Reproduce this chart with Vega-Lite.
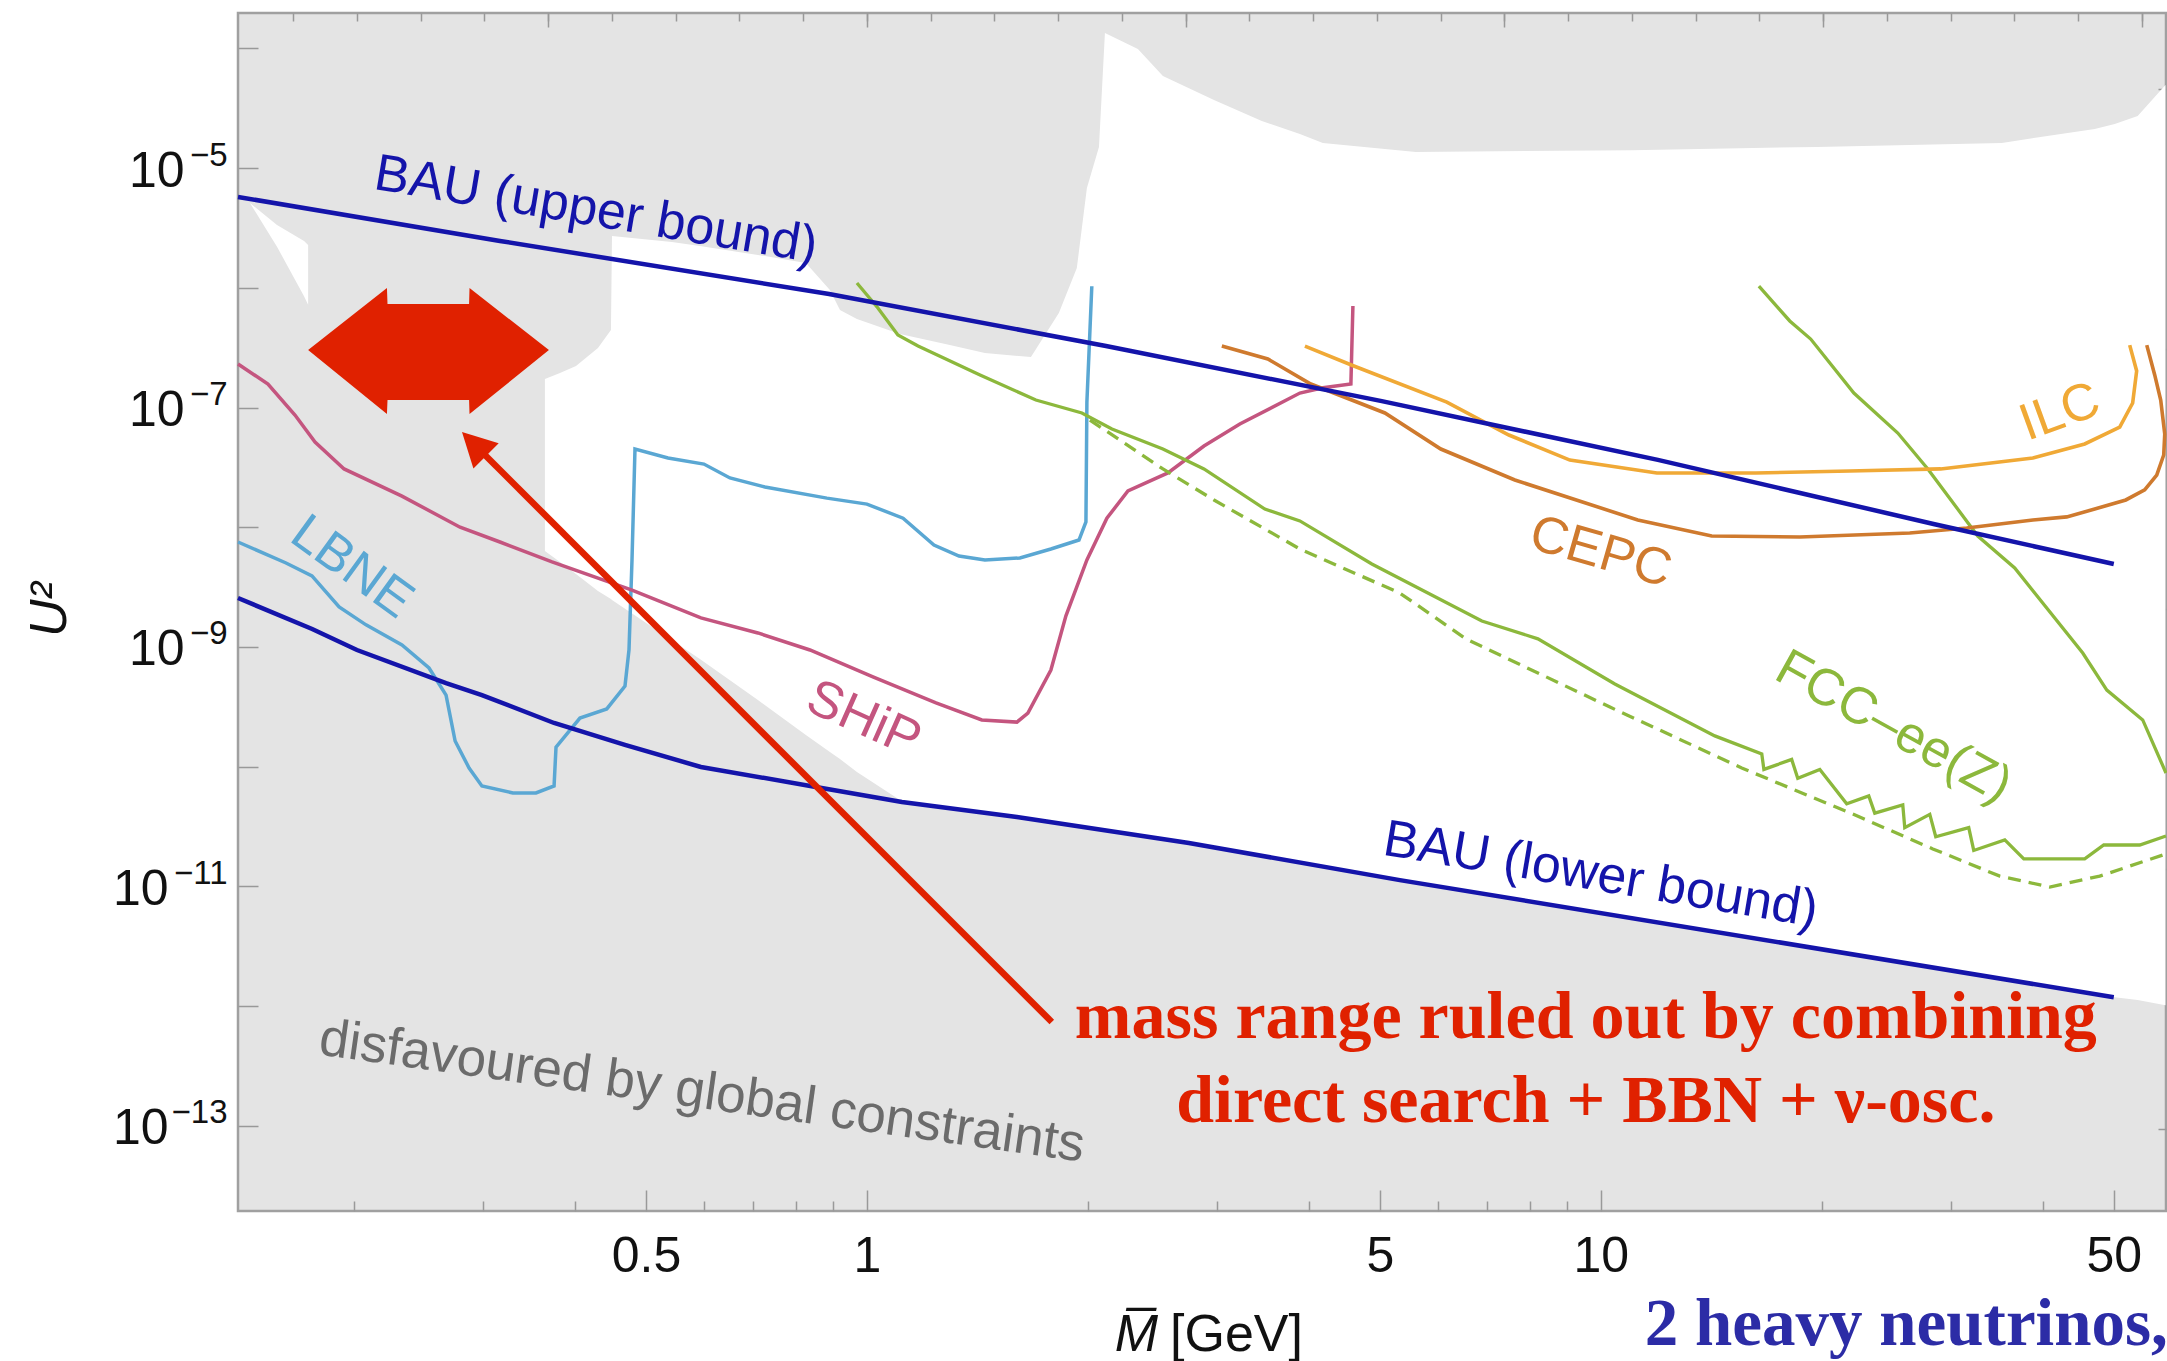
{
  "$schema": "https://vega.github.io/schema/vega-lite/v6.json",
  "width": 1928,
  "height": 1198,
  "autosize": {"type": "none"},
  "padding": {"left": 238, "top": 13, "right": 1, "bottom": 150},
  "background": "white",
  "config": {
    "view": {"fill": "#e4e4e4", "stroke": "#a0a0a0", "strokeWidth": 2.5},
    "axis": {"domain": false, "grid": false, "tickColor": "#999999", "tickWidth": 1.5, "labelFont": "Liberation Sans", "titleFont": "Liberation Sans", "labelColor": "#111111", "titleColor": "#111111", "titleFontWeight": "normal", "zindex": 1, "labelFlush": false, "labelOverlap": false}
  },
  "resolve": {"axis": {"x": "independent", "y": "independent"}},
  "datasets": {
    "white": [
      {"m": 0.3641, "u2": 1.73e-7, "u2b": 6.33e-9},
      {"m": 0.3817, "u2": 1.94e-7, "u2b": 5.13e-9},
      {"m": 0.4014, "u2": 2.22e-7, "u2b": 4.07e-9},
      {"m": 0.43, "u2": 3.14e-7, "u2b": 2.94e-9},
      {"m": 0.4479, "u2": 4.44e-7, "u2b": 2.52e-9},
      {"m": 0.4494, "u2": 2.71e-6, "u2b": 2.47e-9},
      {"m": 0.5424, "u2": 2.41e-6, "u2b": 1.14e-9},
      {"m": 0.5921, "u2": 2.23e-6, "u2b": 7.94e-10},
      {"m": 0.7103, "u2": 1.88e-6, "u2b": 3.61e-10},
      {"m": 0.8257, "u2": 1.61e-6, "u2b": 1.84e-10},
      {"m": 0.8903, "u2": 9.58e-7, "u2b": 1.33e-10},
      {"m": 0.9189, "u2": 6.52e-7, "u2b": 1.16e-10},
      {"m": 0.9691, "u2": 5.48e-7, "u2b": 9.04e-11},
      {"m": 1.109, "u2": 4.11e-7, "u2b": 5.28e-11},
      {"m": 1.297, "u2": 3.32e-7, "u2b": 4.52e-11},
      {"m": 1.448, "u2": 2.85e-7, "u2b": 4.11e-11},
      {"m": 1.673, "u2": 2.64e-7, "u2b": 3.66e-11},
      {"m": 1.826, "u2": 6.15e-7, "u2b": 3.39e-11},
      {"m": 1.932, "u2": 1.46e-6, "u2b": 3.2e-11},
      {"m": 1.994, "u2": 6.81e-6, "u2b": 3.14e-11},
      {"m": 2.071, "u2": 1.5e-5, "u2b": 3.02e-11},
      {"m": 2.11, "u2": 1.341e-4, "u2b": 2.96e-11},
      {"m": 2.34, "u2": 9.86e-5, "u2b": 2.69e-11},
      {"m": 2.531, "u2": 5.87e-5, "u2b": 2.49e-11},
      {"m": 2.971, "u2": 3.7e-5, "u2b": 2.14e-11},
      {"m": 3.452, "u2": 2.47e-5, "u2b": 1.8e-11},
      {"m": 3.89, "u2": 1.92e-5, "u2b": 1.57e-11},
      {"m": 4.181, "u2": 1.62e-5, "u2b": 1.46e-11},
      {"m": 5.598, "u2": 1.36e-5, "u2b": 1.07e-11},
      {"m": 11.02, "u2": 1.41e-5, "u2b": 5.46e-12},
      {"m": 19.69, "u2": 1.5e-5, "u2b": 3.06e-12},
      {"m": 35.18, "u2": 1.62e-5, "u2b": 1.72e-12},
      {"m": 47.1, "u2": 2.12e-5, "u2b": 1.27e-12},
      {"m": 50.15, "u2": 2.33e-5, "u2b": 1.19e-12},
      {"m": 53.89, "u2": 2.72e-5, "u2b": 1.13e-12},
      {"m": 58.8, "u2": 4.93e-5, "u2b": 1.02e-12}
    ],
    "sliver": [
      {"m": 0.1443, "u2": 5.1e-6, "u2b": 5.1e-6},
      {"m": 0.1571, "u2": 3.34e-6, "u2b": 2.2e-6},
      {"m": 0.171, "u2": 2.46e-6, "u2b": 8.5e-7},
      {"m": 0.1732, "u2": 2.28e-6, "u2b": 7.2e-7}
    ],
    "dblarrow": [
      {"m": 0.1732, "u2": 3.02e-7, "u2b": 3.02e-7},
      {"m": 0.2218, "u2": 9.95e-7, "u2b": 8.82e-8},
      {"m": 0.2222, "u2": 7.31e-7, "u2b": 1.155e-7},
      {"m": 0.287, "u2": 7.31e-7, "u2b": 1.155e-7},
      {"m": 0.2874, "u2": 9.95e-7, "u2b": 8.82e-8},
      {"m": 0.3687, "u2": 3.02e-7, "u2b": 3.02e-7}
    ],
    "bau_up": [
      {"m": 0.139, "u2": 5.73e-6},
      {"m": 0.3162, "u2": 2.46e-6},
      {"m": 0.888, "u2": 8.87e-7},
      {"m": 2.117, "u2": 3.26e-7},
      {"m": 5.03, "u2": 1.13e-7},
      {"m": 11.96, "u2": 3.65e-8},
      {"m": 28.5, "u2": 1.06e-8},
      {"m": 50.0, "u2": 4.93e-9}
    ],
    "bau_low": [
      {"m": 0.139, "u2": 2.565e-9},
      {"m": 0.1754, "u2": 1.413e-9},
      {"m": 0.2019, "u2": 9.44e-10},
      {"m": 0.267, "u2": 5.0e-10},
      {"m": 0.2988, "u2": 3.97e-10},
      {"m": 0.3747, "u2": 2.32e-10},
      {"m": 0.468, "u2": 1.52e-10},
      {"m": 0.594, "u2": 9.96e-11},
      {"m": 0.852, "u2": 6.78e-11},
      {"m": 1.116, "u2": 5.08e-11},
      {"m": 1.601, "u2": 3.8e-11},
      {"m": 2.746, "u2": 2.31e-11},
      {"m": 5.323, "u2": 1.13e-11},
      {"m": 50.0, "u2": 1.19e-12}
    ],
    "lbne": [
      {"m": 0.139, "u2": 7.53e-9},
      {"m": 0.1616, "u2": 5.03e-9},
      {"m": 0.1753, "u2": 3.92e-9},
      {"m": 0.1909, "u2": 2.16e-9},
      {"m": 0.2077, "u2": 1.53e-9},
      {"m": 0.2325, "u2": 1.04e-9},
      {"m": 0.2531, "u2": 6.68e-10},
      {"m": 0.267, "u2": 3.97e-10},
      {"m": 0.2747, "u2": 1.64e-10},
      {"m": 0.287, "u2": 9.76e-11},
      {"m": 0.2988, "u2": 6.91e-11},
      {"m": 0.3293, "u2": 6.04e-11},
      {"m": 0.354, "u2": 6.04e-11},
      {"m": 0.3747, "u2": 6.91e-11},
      {"m": 0.377, "u2": 1.46e-10},
      {"m": 0.4064, "u2": 2.55e-10},
      {"m": 0.4421, "u2": 3.04e-10},
      {"m": 0.4681, "u2": 4.72e-10},
      {"m": 0.474, "u2": 9.44e-10},
      {"m": 0.4785, "u2": 5.33e-9},
      {"m": 0.483, "u2": 4.5e-8},
      {"m": 0.5357, "u2": 3.79e-8},
      {"m": 0.5996, "u2": 3.37e-8},
      {"m": 0.6506, "u2": 2.58e-8},
      {"m": 0.7262, "u2": 2.17e-8},
      {"m": 0.882, "u2": 1.75e-8},
      {"m": 1.0, "u2": 1.56e-8},
      {"m": 1.12, "u2": 1.19e-8},
      {"m": 1.234, "u2": 7.11e-9},
      {"m": 1.335, "u2": 5.75e-9},
      {"m": 1.448, "u2": 5.33e-9},
      {"m": 1.616, "u2": 5.54e-9},
      {"m": 1.781, "u2": 6.58e-9},
      {"m": 1.945, "u2": 7.82e-9},
      {"m": 1.988, "u2": 1.11e-8},
      {"m": 1.994, "u2": 1.11e-7},
      {"m": 2.025, "u2": 1.03e-6}
    ],
    "ship": [
      {"m": 0.139, "u2": 2.31e-7},
      {"m": 0.1527, "u2": 1.57e-7},
      {"m": 0.1662, "u2": 8.66e-8},
      {"m": 0.177, "u2": 5.15e-8},
      {"m": 0.1939, "u2": 3.07e-8},
      {"m": 0.2325, "u2": 1.82e-8},
      {"m": 0.279, "u2": 1.0e-8},
      {"m": 0.3162, "u2": 7.53e-9},
      {"m": 0.3723, "u2": 5.13e-9},
      {"m": 0.4785, "u2": 2.99e-9},
      {"m": 0.594, "u2": 1.75e-9},
      {"m": 0.7103, "u2": 1.31e-9},
      {"m": 0.8363, "u2": 9.44e-10},
      {"m": 1.019, "u2": 5.62e-10},
      {"m": 1.242, "u2": 3.41e-10},
      {"m": 1.434, "u2": 2.46e-10},
      {"m": 1.601, "u2": 2.36e-10},
      {"m": 1.657, "u2": 2.81e-10},
      {"m": 1.781, "u2": 6.42e-10},
      {"m": 1.867, "u2": 1.82e-9},
      {"m": 1.994, "u2": 5.33e-9},
      {"m": 2.123, "u2": 1.19e-8},
      {"m": 2.268, "u2": 2.01e-8},
      {"m": 2.571, "u2": 2.84e-8},
      {"m": 2.879, "u2": 4.77e-8},
      {"m": 3.222, "u2": 7.28e-8},
      {"m": 3.89, "u2": 1.32e-7},
      {"m": 4.181, "u2": 1.46e-7},
      {"m": 4.565, "u2": 1.57e-7},
      {"m": 4.594, "u2": 7.04e-7}
    ],
    "fcc": [
      {"m": 0.9691, "u2": 1.096e-6},
      {"m": 1.035, "u2": 6.77e-7},
      {"m": 1.102, "u2": 4.03e-7},
      {"m": 1.174, "u2": 3.26e-7},
      {"m": 1.426, "u2": 1.87e-7},
      {"m": 1.699, "u2": 1.155e-7},
      {"m": 1.963, "u2": 9.0e-8},
      {"m": 2.157, "u2": 6.61e-8},
      {"m": 2.531, "u2": 4.5e-8},
      {"m": 2.879, "u2": 3.07e-8},
      {"m": 3.485, "u2": 1.42e-8},
      {"m": 3.89, "u2": 1.13e-8},
      {"m": 4.875, "u2": 4.93e-9},
      {"m": 6.885, "u2": 1.65e-9},
      {"m": 8.209, "u2": 1.17e-9},
      {"m": 10.45, "u2": 4.91e-10},
      {"m": 14.3, "u2": 1.81e-10},
      {"m": 16.57, "u2": 1.28e-10},
      {"m": 16.68, "u2": 9.5e-11},
      {"m": 18.2, "u2": 1.15e-10},
      {"m": 18.55, "u2": 8.0e-11},
      {"m": 19.88, "u2": 9.5e-11},
      {"m": 21.63, "u2": 4.9e-11},
      {"m": 23.18, "u2": 5.7e-11},
      {"m": 23.62, "u2": 4.1e-11},
      {"m": 25.79, "u2": 4.8e-11},
      {"m": 25.95, "u2": 3.1e-11},
      {"m": 28.07, "u2": 4.0e-11},
      {"m": 28.6, "u2": 2.6e-11},
      {"m": 31.72, "u2": 3.1e-11},
      {"m": 32.22, "u2": 2.0e-11},
      {"m": 35.52, "u2": 2.45e-11},
      {"m": 37.7, "u2": 1.7e-11},
      {"m": 45.64, "u2": 1.7e-11},
      {"m": 48.45, "u2": 2.22e-11},
      {"m": 54.24, "u2": 2.22e-11},
      {"m": 58.9, "u2": 2.64e-11}
    ],
    "fcc_dash": [
      {"m": 2.013, "u2": 7.86e-8},
      {"m": 2.531, "u2": 3.07e-8},
      {"m": 2.971, "u2": 1.69e-8},
      {"m": 3.89, "u2": 6.58e-9},
      {"m": 5.323, "u2": 2.82e-9},
      {"m": 6.549, "u2": 1.17e-9},
      {"m": 10.29, "u2": 3.15e-10},
      {"m": 15.56, "u2": 9.76e-11},
      {"m": 22.04, "u2": 4.03e-11},
      {"m": 28.34, "u2": 2.06e-11},
      {"m": 34.97, "u2": 1.22e-11},
      {"m": 40.9, "u2": 9.9e-12},
      {"m": 47.84, "u2": 1.22e-11},
      {"m": 58.9, "u2": 1.87e-11}
    ],
    "fcc_steep": [
      {"m": 16.42, "u2": 1.03e-6},
      {"m": 18.09, "u2": 5.28e-7},
      {"m": 19.32, "u2": 3.73e-7},
      {"m": 22.12, "u2": 1.32e-7},
      {"m": 25.39, "u2": 6.12e-8},
      {"m": 27.9, "u2": 3.07e-8},
      {"m": 32.63, "u2": 8.45e-9},
      {"m": 36.64, "u2": 4.57e-9},
      {"m": 45.36, "u2": 8.91e-10},
      {"m": 48.92, "u2": 4.37e-10},
      {"m": 54.75, "u2": 2.46e-10},
      {"m": 58.9, "u2": 8.87e-11}
    ],
    "cepc": [
      {"i": 1, "m": 3.045, "u2": 3.26e-7},
      {"i": 2, "m": 3.518, "u2": 2.54e-7},
      {"i": 3, "m": 4.026, "u2": 1.57e-7},
      {"i": 4, "m": 5.079, "u2": 9.0e-8},
      {"i": 5, "m": 6.053, "u2": 4.5e-8},
      {"i": 6, "m": 7.636, "u2": 2.48e-8},
      {"i": 7, "m": 11.23, "u2": 1.15e-8},
      {"i": 8, "m": 14.16, "u2": 8.45e-9},
      {"i": 9, "m": 18.67, "u2": 8.29e-9},
      {"i": 10, "m": 26.36, "u2": 8.95e-9},
      {"i": 11, "m": 31.52, "u2": 9.86e-9},
      {"i": 12, "m": 38.79, "u2": 1.15e-8},
      {"i": 13, "m": 43.14, "u2": 1.22e-8},
      {"i": 14, "m": 47.1, "u2": 1.42e-8},
      {"i": 15, "m": 51.92, "u2": 1.69e-8},
      {"i": 16, "m": 55.09, "u2": 2.05e-8},
      {"i": 17, "m": 57.21, "u2": 2.73e-8},
      {"i": 18, "m": 58.48, "u2": 4.01e-8},
      {"i": 19, "m": 58.67, "u2": 6.01e-8},
      {"i": 20, "m": 57.93, "u2": 1.155e-7},
      {"i": 21, "m": 56.85, "u2": 1.87e-7},
      {"i": 22, "m": 55.45, "u2": 3.32e-7}
    ],
    "ilc": [
      {"i": 1, "m": 3.952, "u2": 3.26e-7},
      {"i": 2, "m": 4.608, "u2": 2.22e-7},
      {"i": 3, "m": 6.168, "u2": 1.11e-7},
      {"i": 4, "m": 7.494, "u2": 5.89e-8},
      {"i": 5, "m": 9.074, "u2": 3.64e-8},
      {"i": 6, "m": 11.92, "u2": 2.84e-8},
      {"i": 7, "m": 16.26, "u2": 2.84e-8},
      {"i": 8, "m": 21.84, "u2": 2.95e-8},
      {"i": 9, "m": 29.05, "u2": 3.07e-8},
      {"i": 10, "m": 38.79, "u2": 3.79e-8},
      {"i": 11, "m": 45.64, "u2": 4.96e-8},
      {"i": 12, "m": 50.94, "u2": 6.87e-8},
      {"i": 13, "m": 53.05, "u2": 1.09e-7},
      {"i": 14, "m": 53.72, "u2": 2.02e-7},
      {"i": 15, "m": 52.56, "u2": 3.32e-7}
    ],
    "arrow": [
      {"m": 1.786, "u2": 7.39e-13},
      {"m": 0.297, "u2": 4.42e-8}
    ],
    "arrowhead": [
      {"m": 0.2915, "u2": 4.96e-8}
    ]
  },
  "layer": [
    {
      "data": {"name": "white"},
      "mark": {"type": "area", "color": "white", "opacity": 1, "interpolate": "linear"},
      "encoding": {
        "x": {"field": "m", "type": "quantitative", "scale": {"type": "log", "domain": [0.139, 58.9], "nice": false},
          "axis": {"orient": "bottom", "values": [0.5, 1, 5, 10, 50], "format": "~g", "offset": -21, "tickSize": 21, "labelPadding": 20, "labelFontSize": 50, "labelBaseline": "top", "title": "[GeV]", "titleFontSize": 52, "titleX": 998, "titleY": 160, "titleAlign": "center", "titleBaseline": "alphabetic"}},
        "y": {"field": "u2", "type": "quantitative", "scale": {"type": "log", "domain": [1.95e-14, 1.97e-4], "nice": false},
          "axis": {"orient": "left", "values": [1e-4, 1e-5, 1e-6, 1e-7, 1e-8, 1e-9, 1e-10, 1e-11, 1e-12, 1e-13], "offset": -20, "tickSize": 20, "labelPadding": 54, "labelFontSize": 50, "labelBaseline": "middle", "labelOffset": 3,
            "labelExpr": "indexof([-5,-7,-9], round(log(datum.value)/LN10)) >= 0 ? '10' : ''",
            "title": "U\u00b2", "titleFontStyle": "italic", "titleFontSize": 52, "titleX": -209, "titleY": 596, "titleAngle": -90, "titleAlign": "center", "titleBaseline": "middle"}},
        "y2": {"field": "u2b"}
      }
    },
    {
      "data": {"name": "sliver"},
      "mark": {"type": "area", "color": "white", "opacity": 1, "interpolate": "linear"},
      "encoding": {
        "x": {"field": "m", "type": "quantitative", "scale": {"type": "log", "domain": [0.139, 58.9], "nice": false},
          "axis": {"orient": "bottom", "values": [0.2, 0.3, 0.4, 0.6, 0.7, 0.8, 0.9, 2, 3, 4, 6, 7, 8, 9, 20, 30, 40], "offset": -10, "tickSize": 10, "labels": false, "title": "M\u0305", "titleFontStyle": "italic", "titleFontSize": 52, "titleX": 898, "titleY": 149, "titleAlign": "center", "titleBaseline": "alphabetic"}},
        "y": {"field": "u2", "type": "quantitative", "scale": {"type": "log", "domain": [1.95e-14, 1.97e-4], "nice": false},
          "axis": {"orient": "left", "values": [1e-5, 1e-7, 1e-9, 1e-11, 1e-13], "ticks": false, "tickSize": 0, "offset": 0, "labelPadding": 11, "labelFontSize": 33, "labelAlign": "right", "labelBaseline": "alphabetic", "labelOffset": -3,
            "labelExpr": "'\u2212' + toString(-round(log(datum.value)/LN10))", "title": null}},
        "y2": {"field": "u2b"}
      }
    },
    {
      "data": {"name": "lbne"},
      "mark": {"type": "line", "color": "#5aa7d3", "strokeWidth": 3.5},
      "encoding": {
        "x": {"field": "m", "type": "quantitative", "scale": {"type": "log", "domain": [0.139, 58.9], "nice": false}, "axis": null},
        "y": {"field": "u2", "type": "quantitative", "scale": {"type": "log", "domain": [1.95e-14, 1.97e-4], "nice": false}, "axis": null}
      }
    },
    {
      "data": {"name": "ship"},
      "mark": {"type": "line", "color": "#c4557f", "strokeWidth": 3.5},
      "encoding": {
        "x": {"field": "m", "type": "quantitative", "scale": {"type": "log", "domain": [0.139, 58.9], "nice": false}, "axis": null},
        "y": {"field": "u2", "type": "quantitative", "scale": {"type": "log", "domain": [1.95e-14, 1.97e-4], "nice": false}, "axis": null}
      }
    },
    {
      "data": {"name": "fcc_dash"},
      "mark": {"type": "line", "color": "#8cb83c", "strokeWidth": 3.3, "strokeDash": [13, 8]},
      "encoding": {
        "x": {"field": "m", "type": "quantitative", "scale": {"type": "log", "domain": [0.139, 58.9], "nice": false}, "axis": null},
        "y": {"field": "u2", "type": "quantitative", "scale": {"type": "log", "domain": [1.95e-14, 1.97e-4], "nice": false}, "axis": null}
      }
    },
    {
      "data": {"name": "fcc"},
      "mark": {"type": "line", "color": "#8cb83c", "strokeWidth": 3.3},
      "encoding": {
        "x": {"field": "m", "type": "quantitative", "scale": {"type": "log", "domain": [0.139, 58.9], "nice": false}, "axis": null},
        "y": {"field": "u2", "type": "quantitative", "scale": {"type": "log", "domain": [1.95e-14, 1.97e-4], "nice": false}, "axis": null}
      }
    },
    {
      "data": {"name": "fcc_steep"},
      "mark": {"type": "line", "color": "#8cb83c", "strokeWidth": 3.3},
      "encoding": {
        "x": {"field": "m", "type": "quantitative", "scale": {"type": "log", "domain": [0.139, 58.9], "nice": false}, "axis": null},
        "y": {"field": "u2", "type": "quantitative", "scale": {"type": "log", "domain": [1.95e-14, 1.97e-4], "nice": false}, "axis": null}
      }
    },
    {
      "data": {"name": "cepc"},
      "mark": {"type": "line", "color": "#cf7a2e", "strokeWidth": 3.6},
      "encoding": {
        "x": {"field": "m", "type": "quantitative", "scale": {"type": "log", "domain": [0.139, 58.9], "nice": false}, "axis": null},
        "y": {"field": "u2", "type": "quantitative", "scale": {"type": "log", "domain": [1.95e-14, 1.97e-4], "nice": false}, "axis": null},
        "order": {"field": "i", "type": "quantitative"}
      }
    },
    {
      "data": {"name": "ilc"},
      "mark": {"type": "line", "color": "#f0a936", "strokeWidth": 3.6},
      "encoding": {
        "x": {"field": "m", "type": "quantitative", "scale": {"type": "log", "domain": [0.139, 58.9], "nice": false}, "axis": null},
        "y": {"field": "u2", "type": "quantitative", "scale": {"type": "log", "domain": [1.95e-14, 1.97e-4], "nice": false}, "axis": null},
        "order": {"field": "i", "type": "quantitative"}
      }
    },
    {
      "data": {"name": "bau_up"},
      "mark": {"type": "line", "color": "#1414aa", "strokeWidth": 4.5},
      "encoding": {
        "x": {"field": "m", "type": "quantitative", "scale": {"type": "log", "domain": [0.139, 58.9], "nice": false},
          "axis": {"orient": "top", "values": [0.1653, 0.2019, 0.2466, 0.3012, 0.3679, 0.4493, 0.5488, 0.6703, 0.8187, 1, 1.2214, 1.4918, 1.8221, 2.2255, 2.7183, 3.3201, 4.0552, 4.953, 6.0496, 7.3891, 9.025, 11.023, 13.464, 16.445, 20.086, 24.533, 29.964, 36.598, 44.701, 54.598], "offset": -8, "tickSize": 8, "labels": false, "title": null}},
        "y": {"field": "u2", "type": "quantitative", "scale": {"type": "log", "domain": [1.95e-14, 1.97e-4], "nice": false},
          "axis": {"orient": "right", "values": [4.54e-5, 3.059e-7, 2.061e-9, 1.389e-11, 9.358e-14], "offset": -8, "tickSize": 8, "labels": false, "title": null}}
      }
    },
    {
      "data": {"name": "bau_low"},
      "mark": {"type": "line", "color": "#1414aa", "strokeWidth": 4.5},
      "encoding": {
        "x": {"field": "m", "type": "quantitative", "scale": {"type": "log", "domain": [0.139, 58.9], "nice": false},
          "axis": {"orient": "top", "values": [0.3679, 1, 2.7183, 7.3891, 20.086, 54.598], "offset": -14, "tickSize": 14, "labels": false, "title": null}},
        "y": {"field": "u2", "type": "quantitative", "scale": {"type": "log", "domain": [1.95e-14, 1.97e-4], "nice": false}, "axis": null}
      }
    },
    {
      "data": {"name": "dblarrow"},
      "mark": {"type": "area", "color": "#e02100", "opacity": 1, "interpolate": "linear"},
      "encoding": {
        "x": {"field": "m", "type": "quantitative", "scale": {"type": "log", "domain": [0.139, 58.9], "nice": false}, "axis": null},
        "y": {"field": "u2", "type": "quantitative", "scale": {"type": "log", "domain": [1.95e-14, 1.97e-4], "nice": false},
          "axis": {"orient": "left", "values": [1e-11, 1e-13], "ticks": false, "tickSize": 0, "offset": 0, "labelPadding": 70, "labelFontSize": 50, "labelBaseline": "middle", "labelOffset": 3, "labelExpr": "'10'", "title": null}},
        "y2": {"field": "u2b"}
      }
    },
    {
      "data": {"name": "arrow"},
      "mark": {"type": "line", "color": "#e02100", "strokeWidth": 6.5},
      "encoding": {
        "x": {"field": "m", "type": "quantitative", "scale": {"type": "log", "domain": [0.139, 58.9], "nice": false}, "axis": null},
        "y": {"field": "u2", "type": "quantitative", "scale": {"type": "log", "domain": [1.95e-14, 1.97e-4], "nice": false}, "axis": null}
      }
    },
    {
      "data": {"name": "arrowhead"},
      "mark": {"type": "point", "shape": "M0,-1L1.05,1L-1.05,1Z", "size": 1156, "angle": 315, "filled": true, "color": "#e02100", "opacity": 1, "strokeWidth": 0},
      "encoding": {
        "x": {"field": "m", "type": "quantitative", "scale": {"type": "log", "domain": [0.139, 58.9], "nice": false}, "axis": null},
        "y": {"field": "u2", "type": "quantitative", "scale": {"type": "log", "domain": [1.95e-14, 1.97e-4], "nice": false}, "axis": null}
      }
    },
    {
      "data": {"values": [{"m": 0.4274, "u2": 4.46e-6, "t": "BAU (upper bound)"}]},
      "mark": {"type": "text", "angle": 9.5, "fontSize": 52, "font": "Liberation Sans", "color": "#1414aa", "align": "center", "baseline": "middle"},
      "encoding": {
        "x": {"field": "m", "type": "quantitative", "scale": {"type": "log", "domain": [0.139, 58.9], "nice": false}, "axis": null},
        "y": {"field": "u2", "type": "quantitative", "scale": {"type": "log", "domain": [1.95e-14, 1.97e-4], "nice": false}, "axis": null},
        "text": {"field": "t"}
      }
    },
    {
      "data": {"values": [{"m": 10.0, "u2": 1.25e-11, "t": "BAU (lower bound)"}]},
      "mark": {"type": "text", "angle": 9.5, "fontSize": 52, "font": "Liberation Sans", "color": "#1414aa", "align": "center", "baseline": "middle"},
      "encoding": {
        "x": {"field": "m", "type": "quantitative", "scale": {"type": "log", "domain": [0.139, 58.9], "nice": false}, "axis": null},
        "y": {"field": "u2", "type": "quantitative", "scale": {"type": "log", "domain": [1.95e-14, 1.97e-4], "nice": false}, "axis": null},
        "text": {"field": "t"}
      }
    },
    {
      "data": {"values": [{"m": 0.1988, "u2": 4.66e-9, "t": "LBNE"}]},
      "mark": {"type": "text", "angle": 36, "fontSize": 52, "font": "Liberation Sans", "color": "#5aa7d3", "align": "center", "baseline": "middle"},
      "encoding": {
        "x": {"field": "m", "type": "quantitative", "scale": {"type": "log", "domain": [0.139, 58.9], "nice": false}, "axis": null},
        "y": {"field": "u2", "type": "quantitative", "scale": {"type": "log", "domain": [1.95e-14, 1.97e-4], "nice": false}, "axis": null},
        "text": {"field": "t"}
      }
    },
    {
      "data": {"values": [{"m": 0.9906, "u2": 2.51e-10, "t": "SHiP"}]},
      "mark": {"type": "text", "angle": 24, "fontSize": 52, "font": "Liberation Sans", "color": "#c4557f", "align": "center", "baseline": "middle"},
      "encoding": {
        "x": {"field": "m", "type": "quantitative", "scale": {"type": "log", "domain": [0.139, 58.9], "nice": false}, "axis": null},
        "y": {"field": "u2", "type": "quantitative", "scale": {"type": "log", "domain": [1.95e-14, 1.97e-4], "nice": false}, "axis": null},
        "text": {"field": "t"}
      }
    },
    {
      "data": {"values": [{"m": 10.0, "u2": 6.21e-9, "t": "CEPC"}]},
      "mark": {"type": "text", "angle": 16, "fontSize": 52, "font": "Liberation Sans", "color": "#cf7a2e", "align": "center", "baseline": "middle"},
      "encoding": {
        "x": {"field": "m", "type": "quantitative", "scale": {"type": "log", "domain": [0.139, 58.9], "nice": false}, "axis": null},
        "y": {"field": "u2", "type": "quantitative", "scale": {"type": "log", "domain": [1.95e-14, 1.97e-4], "nice": false}, "axis": null},
        "text": {"field": "t"}
      }
    },
    {
      "data": {"values": [{"m": 25.07, "u2": 2.15e-10, "t": "FCC\u2013ee(Z)"}]},
      "mark": {"type": "text", "angle": 29, "fontSize": 52, "font": "Liberation Sans", "color": "#8cb83c", "align": "center", "baseline": "middle"},
      "encoding": {
        "x": {"field": "m", "type": "quantitative", "scale": {"type": "log", "domain": [0.139, 58.9], "nice": false}, "axis": null},
        "y": {"field": "u2", "type": "quantitative", "scale": {"type": "log", "domain": [1.95e-14, 1.97e-4], "nice": false}, "axis": null},
        "text": {"field": "t"}
      }
    },
    {
      "data": {"values": [{"m": 42.2, "u2": 9.17e-8, "t": "ILC"}]},
      "mark": {"type": "text", "angle": -20, "fontSize": 52, "font": "Liberation Sans", "color": "#f0a936", "align": "center", "baseline": "middle"},
      "encoding": {
        "x": {"field": "m", "type": "quantitative", "scale": {"type": "log", "domain": [0.139, 58.9], "nice": false}, "axis": null},
        "y": {"field": "u2", "type": "quantitative", "scale": {"type": "log", "domain": [1.95e-14, 1.97e-4], "nice": false}, "axis": null},
        "text": {"field": "t"}
      }
    },
    {
      "data": {"values": [{"m": 0.596, "u2": 1.92e-13, "t": "disfavoured by global constraints"}]},
      "mark": {"type": "text", "angle": 8, "fontSize": 53, "font": "Liberation Sans", "color": "#6b6b6b", "align": "center", "baseline": "middle"},
      "encoding": {
        "x": {"field": "m", "type": "quantitative", "scale": {"type": "log", "domain": [0.139, 58.9], "nice": false}, "axis": null},
        "y": {"field": "u2", "type": "quantitative", "scale": {"type": "log", "domain": [1.95e-14, 1.97e-4], "nice": false}, "axis": null},
        "text": {"field": "t"}
      }
    },
    {
      "data": {"values": [
        {"m": 9.541, "u2": 5.43e-13, "t": "mass range ruled out by combining"},
        {"m": 9.541, "u2": 1.08e-13, "t": "direct search + BBN + \u03bd-osc."}
      ]},
      "mark": {"type": "text", "fontSize": 68, "font": "Liberation Serif", "fontWeight": "bold", "color": "#e02100", "align": "center", "baseline": "alphabetic"},
      "encoding": {
        "x": {"field": "m", "type": "quantitative", "scale": {"type": "log", "domain": [0.139, 58.9], "nice": false}, "axis": null},
        "y": {"field": "u2", "type": "quantitative", "scale": {"type": "log", "domain": [1.95e-14, 1.97e-4], "nice": false}, "axis": null},
        "text": {"field": "t"}
      }
    },
    {
      "data": {"values": [{"m": 11.48, "u2": 1.48e-15, "t": "2 heavy neutrinos,"}]},
      "mark": {"type": "text", "fontSize": 67, "font": "Liberation Serif", "fontWeight": "bold", "color": "#2c2ca6", "align": "left", "baseline": "alphabetic"},
      "encoding": {
        "x": {"field": "m", "type": "quantitative", "scale": {"type": "log", "domain": [0.139, 58.9], "nice": false}, "axis": null},
        "y": {"field": "u2", "type": "quantitative", "scale": {"type": "log", "domain": [1.95e-14, 1.97e-4], "nice": false}, "axis": null},
        "text": {"field": "t"}
      }
    }
  ]
}
